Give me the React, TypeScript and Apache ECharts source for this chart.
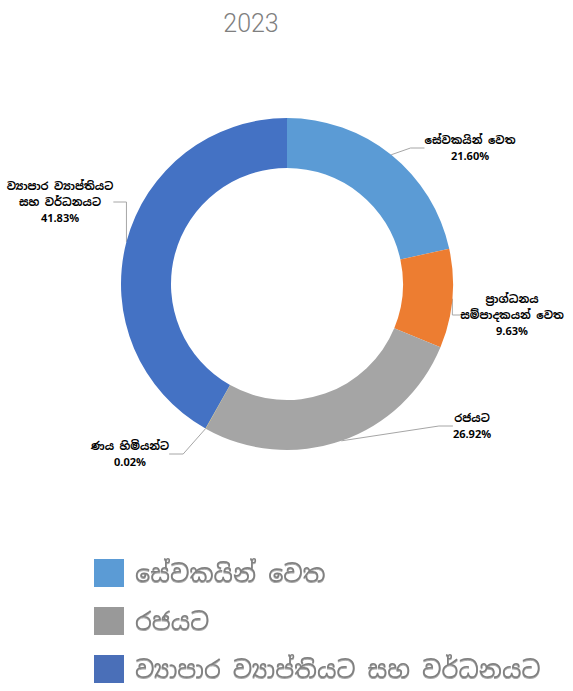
import React, { useEffect, useRef } from "react";
import * as echarts from "echarts";

const titleText = "2023";
const categories = [
  "සේවකයින් වෙත",
  "ප්‍රාග්ධනය සම්පාදකයන් වෙත",
  "රජයට",
  "ණය හිමියන්ට",
  "ව්‍යාපාර ව්‍යාප්තියට සහ වර්ධනයට",
];
const labelLines = [
  "සේවකයින් වෙත",
  "ප්‍රාග්ධනය\nසම්පාදකයන් වෙත",
  "රජයට",
  "ණය හිමියන්ට",
  "ව්‍යාපාර ව්‍යාප්තියට\nසහ වර්ධනයට",
];
const values = [21.6, 9.63, 26.92, 0.02, 41.83];
const sliceColors = ["#5B9BD5", "#ED7D31", "#A5A5A5", "#FFC000", "#4472C4"];
const legendNames = [categories[0], categories[2], categories[4]];
const legendColors = ["#5B9BD5", "#999999", "#4A6FB8"];

const sinhalaFont = "'Noto Sans Sinhala', 'Iskoola Pota', sans-serif";

export default function App() {
  const ref = useRef<HTMLDivElement>(null);
  useEffect(() => {
    const chart = echarts.init(ref.current!, null, { renderer: "svg" });
    const labelPos = [
      { x: 470, y: 148 },
      { x: 512, y: 315 },
      { x: 472, y: 426 },
      { x: 130, y: 454 },
      { x: 60, y: 202 },
    ];
    chart.setOption({
      animation: false,
      backgroundColor: "#ffffff",
      title: {
        text: titleText,
        left: 246,
        top: 6,
        textAlign: "center",
        textStyle: {
          fontFamily: "Roboto, sans-serif",
          fontWeight: 300,
          fontSize: 25,
          color: "#7F7F7F",
        },
      },
      legend: {
        orient: "vertical",
        left: 89,
        top: 554,
        height: 200,
        icon: "rect",
        itemWidth: 30,
        itemHeight: 28,
        itemGap: 20,
        selectedMode: false,
        data: legendNames.map((n, i) => ({ name: n, itemStyle: { color: legendColors[i] } })),
        textStyle: {
          fontSize: 24,
          lineHeight: 28,
          color: "#808080",
          padding: [0, 0, 0, 6],
          fontFamily: sinhalaFont,
          textShadowColor: "rgba(0,0,0,0.35)",
          textShadowOffsetY: 1,
          textShadowBlur: 1,
        },
      },
      series: [
        {
          type: "pie",
          center: [287, 284],
          radius: [116, 166],
          startAngle: 90,
          clockwise: true,
          data: values.map((v, i) => ({
            name: categories[i],
            value: v,
            itemStyle: { color: sliceColors[i] },
          })),
          label: {
            show: true,
            position: "outside",
            overflow: "none",
            formatter: (p: any) => `${labelLines[p.dataIndex]}\n${values[p.dataIndex].toFixed(2)}%`,
            fontSize: 11,
            fontWeight: "bold",
            color: "#000000",
            lineHeight: 16,
            align: "center",
            fontFamily: sinhalaFont,
          },
          labelLine: {
            show: true,
            length: 14,
            length2: 14,
            lineStyle: { color: "#A6A6A6", width: 1 },
          },
          labelLayout: (p: any) => {
            const pos = labelPos[p.dataIndex];
            return { x: pos.x, y: pos.y, align: "center", verticalAlign: "middle" };
          },
        },
      ],
    });
    return () => chart.dispose();
  }, []);
  return (
    <div
      ref={ref}
      style={{ position: "absolute", left: 0, top: 0, width: 573, height: 691 }}
    />
  );
}
